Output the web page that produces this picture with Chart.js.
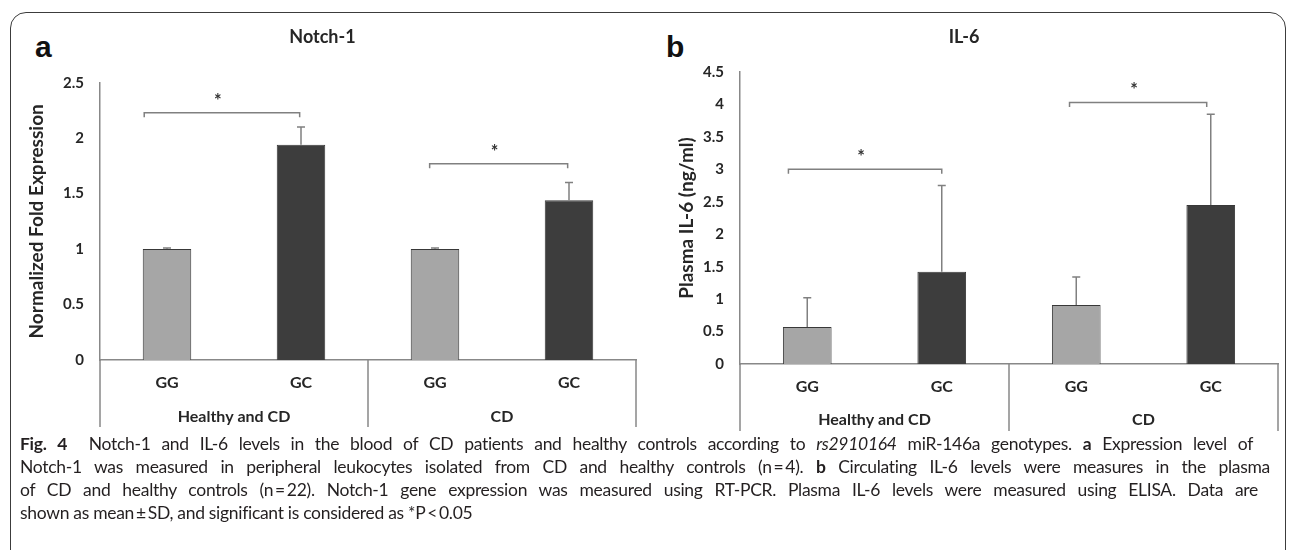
<!DOCTYPE html>
<html>
<head>
<meta charset="utf-8">
<script src="https://cdn.jsdelivr.net/npm/chart.js@4.4.1/dist/chart.umd.min.js"></script>
<style>
html,body{margin:0;padding:0;width:1295px;height:550px;overflow:hidden;background:#fff;}
#frame{position:absolute;left:10px;top:12px;width:1276px;height:570px;border:1.5px solid #3c3c3c;border-radius:16px;box-sizing:border-box;}
.letter{position:absolute;font-family:"Liberation Sans",Arial,sans-serif;font-weight:bold;font-size:30px;color:#111;line-height:1;}
#wa{position:absolute;left:9px;top:0;width:650px;height:440px;}
#wb{position:absolute;left:650px;top:0;width:658px;height:440px;}
#caption{position:absolute;left:20px;top:432px;font-family:Lato,"Open Sans",sans-serif;font-size:17.5px;letter-spacing:-0.3px;line-height:23px;color:#231f20;}
#caption .l{white-space:nowrap;text-align:justify;text-align-last:justify;}
#caption .last{white-space:nowrap;}
</style>
</head>
<body>
<div id="frame"></div>
<div class="letter" style="left:35px;top:32px;">a</div>
<div class="letter" style="left:666px;top:32px;">b</div>
<div id="wa"><canvas id="ca" width="650" height="440"></canvas></div>
<div id="wb"><canvas id="cb" width="658" height="440"></canvas></div>
<div id="caption">
  <div class="l" style="width:1233px;"><b>Fig. 4</b>&nbsp; Notch-1 and IL-6 levels in the blood of CD patients and healthy controls according to <i>rs2910164</i> miR-146a genotypes. <b>a</b> Expression level of</div>
  <div class="l" style="width:1250px;">Notch-1 was measured in peripheral leukocytes isolated from CD and healthy controls (n&#8201;=&#8201;4). <b>b</b> Circulating IL-6 levels were measures in the plasma</div>
  <div class="l" style="width:1238px;">of CD and healthy controls (n&#8201;=&#8201;22). Notch-1 gene expression was measured using RT-PCR. Plasma IL-6 levels were measured using ELISA. Data are</div>
  <div class="last">shown as mean&#8201;±&#8201;SD, and significant is considered as *P&#8201;&lt;&#8201;0.05</div>
</div>
<script>
// ---- data ----
const categories = ['GG', 'GC', 'GG', 'GC'];
const groups = ['Healthy and CD', 'CD'];

const notchMean = [1.00, 1.94, 1.00, 1.44];
const notchSD   = [0.01, 0.16, 0.01, 0.16];

const il6Mean = [0.57, 1.42, 0.91, 2.45];
const il6SD   = [0.45, 1.33, 0.43, 1.40];

const notchAxis = { min: 0, max: 2.5, step: 0.5 };
const il6Axis   = { min: 0, max: 4.5, step: 0.5 };

// significance brackets: category-index span and level in data units
const notchSigFrom  = [-0.17, 1.96];
const notchSigTo    = [0.99, 2.99];
const notchSigLevel = [2.23, 1.77];

const il6SigFrom  = [-0.14, 1.95];
const il6SigTo    = [1.00, 2.97];
const il6SigLevel = [3.00, 4.03];

// ---- styles ----
const LIGHT = '#a6a6a6';
const DARK = '#3d3d3d';
const genotypeColor = { GG: LIGHT, GC: DARK };
const FONT = 'Lato';

const errorBarPlugin = {
  id: 'errorBars',
  afterDatasetsDraw(chart, args, opts) {
    const ctx = chart.ctx;
    const meta = chart.getDatasetMeta(0);
    const y = chart.scales.y;
    const data = chart.data.datasets[0].data;
    ctx.save();
    ctx.strokeStyle = opts.color;
    ctx.lineWidth = opts.width;
    meta.data.forEach((bar, i) => {
      const base = y.getPixelForValue(data[i]);
      const top = y.getPixelForValue(data[i] + opts.sd[i]);
      ctx.beginPath();
      ctx.moveTo(bar.x, base);
      ctx.lineTo(bar.x, top);
      ctx.moveTo(bar.x - opts.cap, top);
      ctx.lineTo(bar.x + opts.cap, top);
      ctx.stroke();
    });
    ctx.restore();
  }
};

const sigPlugin = {
  id: 'sig',
  afterDatasetsDraw(chart, args, opts) {
    const ctx = chart.ctx;
    const x = chart.scales.x, y = chart.scales.y;
    ctx.save();
    ctx.strokeStyle = opts.color;
    ctx.lineWidth = opts.width;
    ctx.fillStyle = opts.textColor;
    ctx.font = 'bold 18px ' + FONT;
    ctx.textAlign = 'center';
    ctx.textBaseline = 'alphabetic';
    for (let i = 0; i < opts.from.length; i++) {
      const x1 = x.getPixelForValue(opts.from[i]);
      const x2 = x.getPixelForValue(opts.to[i]);
      const yy = y.getPixelForValue(opts.level[i]);
      ctx.beginPath();
      ctx.moveTo(x1, yy + opts.tick);
      ctx.lineTo(x1, yy);
      ctx.lineTo(x2, yy);
      ctx.lineTo(x2, yy + opts.tick);
      ctx.stroke();
      ctx.fillText('*', (x1 + x2) / 2 - 4, yy - opts.starGap);
    }
    ctx.restore();
  }
};

const tablePlugin = {
  id: 'table',
  afterDraw(chart, args, opts) {
    const ctx = chart.ctx;
    const x = chart.scales.x, g = chart.scales.xg;
    const top = chart.chartArea.bottom;
    const bottom = g.bottom;
    const xs = [x.left, x.getPixelForValue(1.5), x.right];
    ctx.save();
    ctx.strokeStyle = opts.color;
    ctx.lineWidth = opts.width;
    ctx.beginPath();
    xs.forEach(px => { ctx.moveTo(px, top); ctx.lineTo(px, bottom); });
    ctx.stroke();
    ctx.restore();
  }
};

function makeChart(canvasId, cfg) {
  return new Chart(document.getElementById(canvasId), {
    type: 'bar',
    data: {
      labels: categories,
      datasets: [{
        data: cfg.mean,
        backgroundColor: categories.map(c => genotypeColor[c]),
        borderColor: '#383838',
        borderWidth: 1,
        barPercentage: 0.362,
        categoryPercentage: 1.0
      }]
    },
    options: {
      responsive: false,
      animation: false,
      events: [],
      layout: { padding: cfg.padding },
      scales: {
        x: {
          type: 'category',
          position: 'bottom',
          offset: true,
          grid: { display: false, drawTicks: false },
          border: { display: true, color: '#888888', width: 1.5 },
          ticks: { font: { family: FONT, size: 16, weight: 'bold' }, color: '#262626', padding: 13.4 },
          afterFit(s) { s.height = 40; }
        },
        xg: {
          type: 'category',
          position: 'bottom',
          labels: groups,
          offset: true,
          grid: { display: false, drawTicks: false },
          border: { display: false },
          ticks: { font: { family: FONT, size: 16, weight: 'bold' }, color: '#262626', padding: cfg.groupPad },
          afterFit(s) { s.height = 27; }
        },
        y: {
          min: cfg.axis.min,
          max: cfg.axis.max,
          grid: { display: false, drawTicks: false },
          border: { display: true, color: '#888888', width: 1.5 },
          ticks: {
            stepSize: cfg.axis.step,
            font: { family: FONT, size: 15, weight: 'bold' },
            color: '#262626',
            padding: 16,
            callback: v => String(Math.round(v * 10) / 10)
          },
          title: { display: true, text: cfg.yTitle, font: { family: FONT, size: 19, weight: 'bold' }, color: '#262626', padding: { top: cfg.yTitlePad, bottom: 0 } },
          afterFit(s) { s.width = cfg.yWidth; }
        }
      },
      plugins: {
        legend: { display: false },
        tooltip: { enabled: false },
        title: { display: true, text: cfg.title, font: { family: FONT, size: 18, weight: 'bold' }, color: '#262626', padding: { top: 26.2, bottom: cfg.titleBottom } },
        errorBars: { sd: cfg.sd, color: '#808080', width: 1.5, cap: 4 },
        sig: { from: cfg.sigFrom, to: cfg.sigTo, level: cfg.sigLevel, color: '#808080', width: 1.5, tick: 4.5, starGap: 6, textColor: '#333333' },
        table: { color: '#888888', width: 1.5 }
      }
    },
    plugins: [errorBarPlugin, sigPlugin, tablePlugin]
  });
}

makeChart('ca', {
  mean: notchMean, sd: notchSD, axis: notchAxis,
  sigFrom: notchSigFrom, sigTo: notchSigTo, sigLevel: notchSigLevel,
  title: 'Notch-1', yTitle: 'Normalized Fold Expression',
  padding: { left: 0, right: 23, top: 0, bottom: 13 },
  yWidth: 91, yTitlePad: 16.6, titleBottom: 34.9, groupPad: 7.4
});

makeChart('cb', {
  mean: il6Mean, sd: il6SD, axis: il6Axis,
  sigFrom: il6SigFrom, sigTo: il6SigTo, sigLevel: il6SigLevel,
  title: 'IL-6', yTitle: 'Plasma IL-6 (ng/ml)',
  padding: { left: 0, right: 30, top: 0, bottom: 9 },
  yWidth: 90, yTitlePad: 25.6, titleBottom: 24.2, groupPad: 6.4
});
</script>
</body>
</html>
